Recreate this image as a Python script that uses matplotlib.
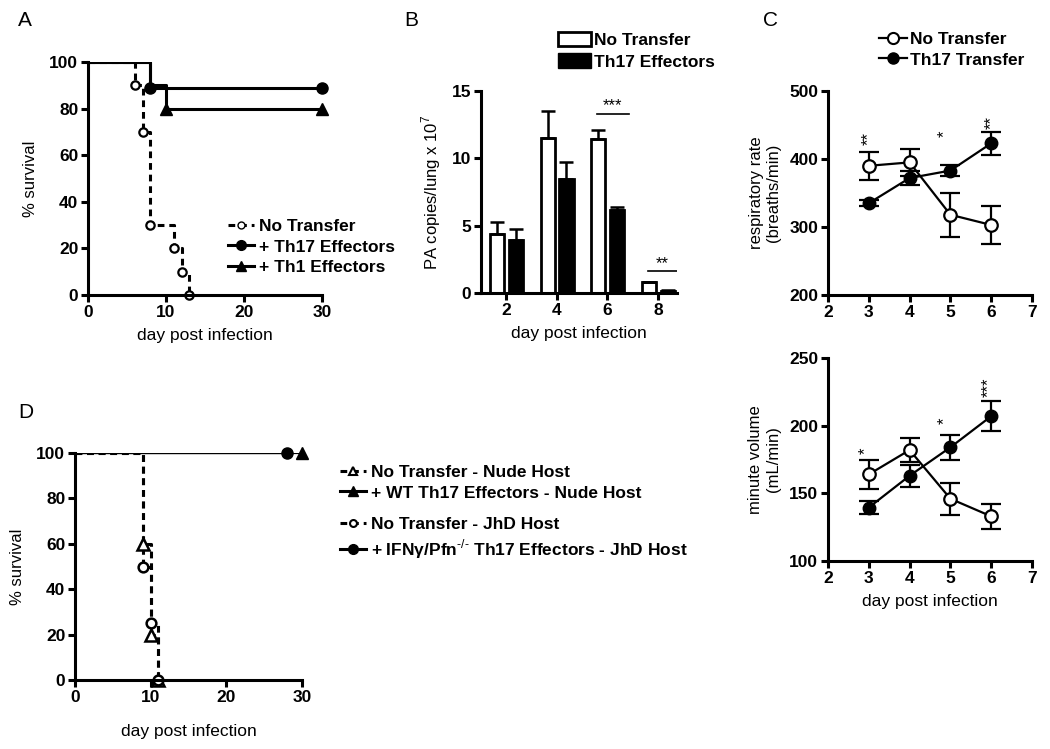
import matplotlib
matplotlib.use("Agg")
import matplotlib.pyplot as plt
import numpy as np
from matplotlib.patches import Patch
from matplotlib.lines import Line2D

plt.rcParams['font.family'] = ['Liberation Sans', 'DejaVu Sans']
plt.rcParams['mathtext.fontset'] = 'custom'
plt.rcParams['mathtext.rm'] = 'Liberation Sans'
plt.rcParams['mathtext.bf'] = 'Liberation Sans:bold'

# ---- panel A: survival ----
a_none_t = [0, 6, 7, 8, 11, 12, 13]
a_none_s = [100, 90, 70, 30, 20, 10, 0]
a_th17_t = [0, 8, 30]
a_th17_s = [100, 89, 89]
a_th1_t = [0, 8, 10, 30]
a_th1_s = [100, 90, 80, 80]

# ---- panel B: bars ----
b_days = [2, 4, 6, 8]
b_none = [4.4, 11.5, 11.4, 0.8]
b_none_err = [0.9, 2.0, 0.7, 0.05]
b_th17 = [3.9, 8.5, 6.2, 0.15]
b_th17_err = [0.85, 1.2, 0.2, 0.05]

# ---- panel C: respiratory rate / minute volume ----
c_days = [3, 4, 5, 6]
rr_none = [390, 395, 318, 303]
rr_none_err = [21, 20, 32, 28]
rr_th17 = [335, 372, 383, 423]
rr_th17_err = [4, 10, 8, 17]
mv_none = [164, 182, 146, 133]
mv_none_err = [11, 9, 12, 9]
mv_th17 = [139.5, 163, 184, 207]
mv_th17_err = [5, 8, 9, 11]

# ---- panel D: survival ----
d_nude_none_t = [0, 9, 10, 11]
d_nude_none_s = [100, 60, 20, 0]
d_nude_th17_t = [0, 30]
d_nude_th17_s = [100, 100]
d_jhd_none_t = [0, 9, 10, 11]
d_jhd_none_s = [100, 50, 25, 0]
d_jhd_th17_t = [0, 28]
d_jhd_th17_s = [100, 100]

W, H = 1050, 749
fig = plt.figure(figsize=(W / 100, H / 100), dpi=100)

TICK = 12.5
LAB = 12.5
LEG = 12.5
STAR = 12
LETTER = 15


def box(l, t, r, b):
    return [l / W, 1 - b / H, (r - l) / W, (b - t) / H]


def style(ax):
    for s in ['top', 'right']:
        ax.spines[s].set_visible(False)
    for s in ['left', 'bottom']:
        ax.spines[s].set_linewidth(2.2)
    ax.tick_params(width=2.2, length=5, labelsize=TICK, direction='out', pad=2)
    for lab in ax.get_xticklabels() + ax.get_yticklabels():
        lab.set_fontweight('bold')


def leg(handles, labels, x, y, **kw):
    opts = dict(loc='upper left', bbox_to_anchor=(x / W, 1 - y / H), frameon=False,
                prop={'weight': 'bold', 'size': LEG}, handlelength=1.5, handletextpad=0.3,
                labelspacing=0.3, borderpad=0, borderaxespad=0)
    opts.update(kw)
    return fig.legend(handles, labels, **opts)


dash = (0, (2.2, 1.6))

# A
axA = fig.add_axes(box(88, 62, 322, 295))
axA.plot(a_none_t, a_none_s, drawstyle='steps-post', color='k', lw=2.2, ls=dash)
axA.plot(a_none_t[1:], a_none_s[1:], 'o', mfc='white', mec='k', ms=6, mew=1.6, clip_on=False)
axA.plot(a_th17_t, a_th17_s, drawstyle='steps-post', color='k', lw=2.2)
axA.plot(a_th17_t[1:], a_th17_s[1:], 'o', color='k', ms=8, clip_on=False)
axA.plot(a_th1_t, a_th1_s, drawstyle='steps-post', color='k', lw=2.2)
axA.plot(a_th1_t[2:], a_th1_s[2:], '^', color='k', ms=8, clip_on=False)
axA.set_xlim(0, 30)
axA.set_ylim(0, 100)
axA.set_xticks([0, 10, 20, 30])
axA.set_yticks([0, 20, 40, 60, 80, 100])
axA.set_xlabel('day post infection', fontsize=LAB, labelpad=6)
axA.set_ylabel('% survival', fontsize=12, labelpad=8)
style(axA)
hA = [Line2D([], [], color='k', lw=2.2, ls=dash, marker='o', mfc='white', mec='k', ms=5),
      Line2D([], [], color='k', lw=2.2, marker='o', ms=7),
      Line2D([], [], color='k', lw=2.2, marker='^', ms=7)]
leg(hA, ['No Transfer', '+ Th17 Effectors', '+ Th1 Effectors'], 228, 219)
fig.text(18 / W, 1 - 21 / H, 'A', fontsize=LETTER, va='center')

# B
axB = fig.add_axes(box(481, 91, 677, 293))
bw = 0.56
x = np.array(b_days, dtype=float)
axB.bar(x - 0.36, b_none, width=bw, color='white', edgecolor='k', lw=2)
axB.bar(x + 0.38, b_th17, width=bw, color='k', edgecolor='k', lw=2)
axB.errorbar(x - 0.36, b_none, yerr=[np.zeros(4), b_none_err], fmt='none',
             ecolor='k', elinewidth=1.8, capsize=5, capthick=1.8)
axB.errorbar(x + 0.38, b_th17, yerr=[np.zeros(4), b_th17_err], fmt='none',
             ecolor='k', elinewidth=1.8, capsize=5, capthick=1.8)
axB.plot([5.6, 6.85], [13.3, 13.3], color='k', lw=1.2)
axB.text(6.2, 13.35, '***', ha='center', va='bottom', fontsize=STAR)
axB.plot([7.6, 8.75], [1.6, 1.6], color='k', lw=1.2)
axB.text(8.15, 1.65, '**', ha='center', va='bottom', fontsize=STAR)
axB.set_xlim(1, 8.75)
axB.set_ylim(0, 15)
axB.set_xticks(b_days)
axB.set_yticks([0, 5, 10, 15])
axB.set_xlabel('day post infection', fontsize=LAB, labelpad=6)
axB.set_ylabel('PA copies/lung x 10$^7$', fontsize=12, labelpad=6)
style(axB)
hB = [Patch(facecolor='white', edgecolor='k', lw=2), Patch(facecolor='k', edgecolor='k')]
leg(hB, ['No Transfer', 'Th17 Effectors'], 558, 32, handlelength=1.9, handleheight=0.9,
    handletextpad=0.2)
fig.text(404 / W, 1 - 21 / H, 'B', fontsize=LETTER, va='center')

# C top
axC1 = fig.add_axes(box(828, 91, 1032, 295))
axC1.errorbar(c_days, rr_none, yerr=rr_none_err, color='k', lw=1.6, marker='o',
              mfc='white', mec='k', ms=9, mew=1.6, capsize=7, capthick=1.6, elinewidth=1.6)
axC1.errorbar(c_days, rr_th17, yerr=rr_th17_err, color='k', lw=1.6, marker='o',
              ms=9, capsize=7, capthick=1.6, elinewidth=1.6)
axC1.text(3, 420, '**', rotation=90, ha='center', va='bottom', fontsize=STAR)
axC1.text(4.85, 432, '*', rotation=90, ha='center', va='bottom', fontsize=STAR)
axC1.text(6, 444, '**', rotation=90, ha='center', va='bottom', fontsize=STAR)
axC1.set_xlim(2, 7)
axC1.set_ylim(200, 500)
axC1.set_xticks([2, 3, 4, 5, 6, 7])
axC1.set_yticks([200, 300, 400, 500])
axC1.set_ylabel('respiratory rate\n(breaths/min)', fontsize=12, labelpad=6)
style(axC1)
hC = [Line2D([], [], color='k', lw=1.6, marker='o', mfc='white', mec='k', ms=8, mew=1.5),
      Line2D([], [], color='k', lw=1.6, marker='o', ms=8)]
leg(hC, ['No Transfer', 'Th17 Transfer'], 879, 32, handlelength=1.6, handletextpad=0.2)
fig.text(763 / W, 1 - 21 / H, 'C', fontsize=LETTER, va='center')

# C bottom
axC2 = fig.add_axes(box(828, 358, 1032, 561))
axC2.errorbar(c_days, mv_none, yerr=mv_none_err, color='k', lw=1.6, marker='o',
              mfc='white', mec='k', ms=9, mew=1.6, capsize=7, capthick=1.6, elinewidth=1.6)
axC2.errorbar(c_days, mv_th17, yerr=mv_th17_err, color='k', lw=1.6, marker='o',
              ms=9, capsize=7, capthick=1.6, elinewidth=1.6)
axC2.text(2.92, 179, '*', rotation=90, ha='center', va='bottom', fontsize=STAR)
axC2.text(4.85, 201, '*', rotation=90, ha='center', va='bottom', fontsize=STAR)
axC2.text(5.92, 221, '***', rotation=90, ha='center', va='bottom', fontsize=STAR)
axC2.set_xlim(2, 7)
axC2.set_ylim(100, 250)
axC2.set_xticks([2, 3, 4, 5, 6, 7])
axC2.set_yticks([100, 150, 200, 250])
axC2.set_xlabel('day post infection', fontsize=LAB, labelpad=6)
axC2.set_ylabel('minute volume\n(mL/min)', fontsize=12, labelpad=6)
style(axC2)

# D
axD = fig.add_axes(box(75, 453, 302, 680))
axD.plot(d_nude_none_t, d_nude_none_s, drawstyle='steps-post', color='k', lw=2.2, ls=dash)
axD.plot(d_jhd_none_t, d_jhd_none_s, drawstyle='steps-post', color='k', lw=2.2, ls=dash)
axD.plot(d_nude_th17_t, d_nude_th17_s, drawstyle='steps-post', color='k', lw=1.6)
axD.plot(d_jhd_th17_t, d_jhd_th17_s, drawstyle='steps-post', color='k', lw=1.6)
axD.plot(d_nude_none_t[1:], d_nude_none_s[1:], '^', mfc='white', mec='k', ms=8, mew=1.8, clip_on=False)
axD.plot(d_jhd_none_t[1:], d_jhd_none_s[1:], 'o', mfc='white', mec='k', ms=7, mew=1.8, clip_on=False)
axD.plot(d_nude_th17_t[1:], d_nude_th17_s[1:], '^', color='k', ms=8, clip_on=False)
axD.plot(d_jhd_th17_t[1:], d_jhd_th17_s[1:], 'o', color='k', ms=8, clip_on=False)
axD.set_xlim(0, 30)
axD.set_ylim(0, 100)
axD.set_xticks([0, 10, 20, 30])
axD.set_yticks([0, 20, 40, 60, 80, 100])
axD.set_xlabel('day post infection', fontsize=LAB, labelpad=14)
axD.set_ylabel('% survival', fontsize=12, labelpad=8)
style(axD)
hD1 = [Line2D([], [], color='k', lw=2.2, ls=dash, marker='^', mfc='white', mec='k', ms=6, mew=1.5),
       Line2D([], [], color='k', lw=2.2, marker='^', ms=7)]
hD2 = [Line2D([], [], color='k', lw=2.2, ls=dash, marker='o', mfc='white', mec='k', ms=5, mew=1.5),
       Line2D([], [], color='k', lw=2.2, marker='o', ms=7)]
leg(hD1, ['No Transfer - Nude Host', '+ WT Th17 Effectors - Nude Host'], 340, 465)
leg(hD2, ['No Transfer - JhD Host',
          '+ IFN\u03b3/Pfn$^{\\mathbf{\\text{-/-}}}$ Th17 Effectors - JhD Host'], 340, 517)
fig.text(18 / W, 1 - 412 / H, 'D', fontsize=LETTER, va='center')

fig.savefig('out.png', dpi=100)
